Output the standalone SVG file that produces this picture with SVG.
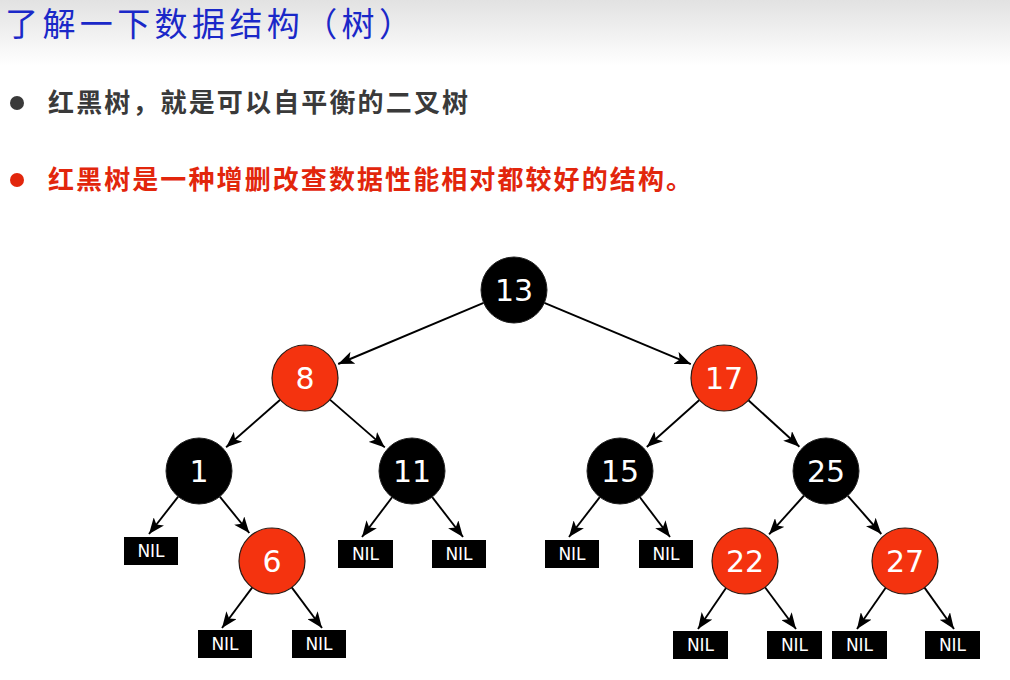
<svg xmlns="http://www.w3.org/2000/svg" width="1010" height="680" viewBox="0 0 1010 680">
<defs>
<linearGradient id="hdr" x1="0" y1="0" x2="0" y2="1">
<stop offset="0" stop-color="#e2e2e2"/>
<stop offset="1" stop-color="#ffffff"/>
</linearGradient>
<marker id="ah" viewBox="0 0 16 13" refX="16" refY="6.5" markerWidth="16" markerHeight="13" markerUnits="userSpaceOnUse" orient="auto">
<path d="M0,0 L16,6.5 L0,13 L4,6.5 Z" fill="#000"/>
</marker>
<style>
.title{font-family:"Noto Sans CJK SC","Noto Sans CJK JP",sans-serif;font-size:33px;fill:#1a28c8;}
.b1{font-family:"Noto Sans CJK SC",sans-serif;font-size:26px;font-weight:bold;fill:#3a3a3a;}
.b2{font-family:"Noto Sans CJK SC",sans-serif;font-size:26px;font-weight:bold;fill:#e2260c;}
.blk{fill:#000;stroke:#222;stroke-width:1;}
.red{fill:#f4330f;stroke:#2a1a14;stroke-width:1.2;}
.num{font-family:"DejaVu Sans",sans-serif;font-size:30px;fill:#fff;text-anchor:middle;}
.nil rect{fill:#000;}
.nil text{font-family:"DejaVu Sans",sans-serif;font-size:17px;fill:#fff;text-anchor:middle;}
#edges line{stroke:#000;stroke-width:1.9;marker-end:url(#ah);}
</style>
</defs>
<rect width="1010" height="680" fill="#fff"/>
<rect width="1010" height="66" fill="url(#hdr)"/>
<text class="title" x="5" y="36" textLength="407" lengthAdjust="spacing">了解一下数据结构（树）</text>
<circle cx="17" cy="103" r="7" fill="#3a3a3a"/>
<text class="b1" x="48" y="112" textLength="420" lengthAdjust="spacing">红黑树，就是可以自平衡的二叉树</text>
<circle cx="17" cy="180" r="7" fill="#e2260c"/>
<text class="b2" x="48" y="189" textLength="644" lengthAdjust="spacing">红黑树是一种增删改查数据性能相对都较好的结构。</text>
<g id="edges">
<line x1="483.6" y1="302.8" x2="338.2" y2="364"/>
<line x1="544.4" y1="302.8" x2="690.8" y2="364.1"/>
<line x1="280.2" y1="399.8" x2="226.1" y2="447.3"/>
<line x1="329.9" y1="399.6" x2="384.8" y2="447.4"/>
<line x1="699.4" y1="400" x2="646.8" y2="447"/>
<line x1="748.4" y1="400.2" x2="799.4" y2="446.7"/>
<line x1="178.2" y1="496.6" x2="149" y2="534"/>
<line x1="219.8" y1="496.6" x2="249.3" y2="533"/>
<line x1="392.1" y1="497.3" x2="362" y2="537"/>
<line x1="432.2" y1="497.1" x2="463" y2="537"/>
<line x1="599.8" y1="497.1" x2="569" y2="537"/>
<line x1="639.9" y1="497.3" x2="670" y2="537"/>
<line x1="804.1" y1="495.5" x2="769.1" y2="534.3"/>
<line x1="847.8" y1="495.8" x2="881.3" y2="534"/>
<line x1="252.3" y1="587.4" x2="222" y2="628"/>
<line x1="291.7" y1="587.4" x2="322" y2="628"/>
<line x1="726" y1="588" x2="698" y2="629"/>
<line x1="765" y1="587.2" x2="796" y2="629"/>
<line x1="885.7" y1="587.8" x2="857" y2="629"/>
<line x1="924.5" y1="587.6" x2="954" y2="629"/>
</g>
<g id="n13"><circle class="blk" cx="514" cy="290" r="33"/><text class="num" x="514" y="301">13</text></g>
<g id="n8"><circle class="red" cx="305" cy="378" r="33"/><text class="num" x="305" y="389">8</text></g>
<g id="n17"><circle class="red" cx="724" cy="378" r="33"/><text class="num" x="724" y="389">17</text></g>
<g id="n1"><circle class="blk" cx="199" cy="471" r="33"/><text class="num" x="199" y="482">1</text></g>
<g id="n11"><circle class="blk" cx="412" cy="471" r="33"/><text class="num" x="412" y="482">11</text></g>
<g id="n15"><circle class="blk" cx="620" cy="471" r="33"/><text class="num" x="620" y="482">15</text></g>
<g id="n25"><circle class="blk" cx="826" cy="471" r="33"/><text class="num" x="826" y="482">25</text></g>
<g id="n6"><circle class="red" cx="272" cy="561" r="33"/><text class="num" x="272" y="572">6</text></g>
<g id="n22"><circle class="red" cx="745" cy="561" r="33"/><text class="num" x="745" y="572">22</text></g>
<g id="n27"><circle class="red" cx="905" cy="561" r="33"/><text class="num" x="905" y="572">27</text></g>
<g id="nil1a" class="nil"><rect x="124" y="537" width="54" height="28"/><text x="151" y="557">NIL</text></g>
<g id="nil11a" class="nil"><rect x="338" y="540" width="55" height="28"/><text x="365.5" y="560">NIL</text></g>
<g id="nil11b" class="nil"><rect x="432" y="540" width="54" height="28"/><text x="459" y="560">NIL</text></g>
<g id="nil15a" class="nil"><rect x="545" y="540" width="54" height="28"/><text x="572" y="560">NIL</text></g>
<g id="nil15b" class="nil"><rect x="639" y="540" width="54" height="28"/><text x="666" y="560">NIL</text></g>
<g id="nil6a" class="nil"><rect x="198" y="630" width="54" height="28"/><text x="225" y="650">NIL</text></g>
<g id="nil6b" class="nil"><rect x="292" y="630" width="54" height="28"/><text x="319" y="650">NIL</text></g>
<g id="nil22a" class="nil"><rect x="673" y="631" width="55" height="28"/><text x="700.5" y="651">NIL</text></g>
<g id="nil22b" class="nil"><rect x="767" y="631" width="55" height="28"/><text x="794.5" y="651">NIL</text></g>
<g id="nil27a" class="nil"><rect x="832" y="631" width="55" height="28"/><text x="859.5" y="651">NIL</text></g>
<g id="nil27b" class="nil"><rect x="925" y="631" width="55" height="28"/><text x="952.5" y="651">NIL</text></g>
</svg>
